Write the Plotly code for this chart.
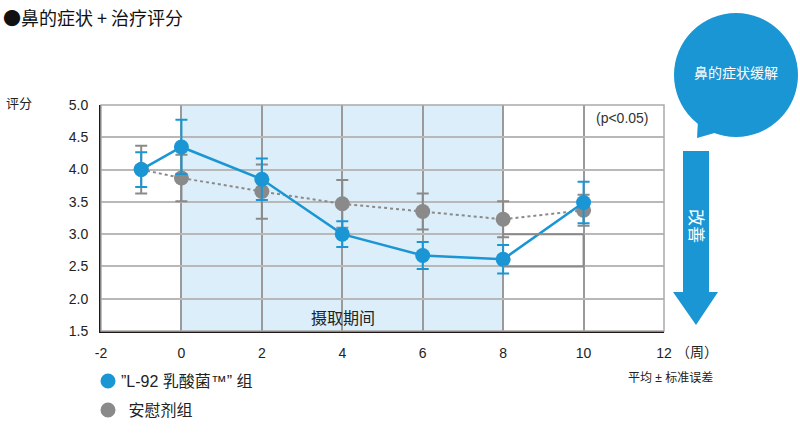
import plotly.graph_objects as go

weeks = [-1, 0, 2, 4, 6, 8, 10]
l92_mean = [4.00, 4.35, 3.85, 3.00, 2.67, 2.61, 3.49]
l92_se = [0.27, 0.42, 0.32, 0.20, 0.21, 0.22, 0.32]
placebo_mean = [4.00, 3.87, 3.66, 3.47, 3.35, 3.23, 3.37]
placebo_se = [0.37, 0.36, 0.42, 0.37, 0.28, 0.28, 0.24]
x_ticks = [-2, 0, 2, 4, 6, 8, 10, 12]
y_ticks = [1.5, 2.0, 2.5, 3.0, 3.5, 4.0, 4.5, 5.0]
series_names = ["”L-92 乳酸菌™” 组", " 安慰剂组"]

BLUE = "#1a96d4"
GRAY = "#8a8a8a"
FONT = "Liberation Sans, Noto Sans CJK SC"
CJK = "Noto Sans CJK SC"

L, R, T, B = 101, 664, 105, 331
W, H = 800, 437

def xp(px):
    return (px - L) / (R - L)

def yp(py):
    return (B - py) / (B - T)

fig = go.Figure()

fig.add_trace(go.Scatter(
    x=weeks, y=placebo_mean, mode="lines+markers", name=series_names[1],
    line=dict(color=GRAY, width=2, dash="dot"),
    marker=dict(color=GRAY, size=15),
    error_y=dict(type="data", array=placebo_se, color=GRAY, thickness=2, width=6),
    showlegend=False,
))
fig.add_trace(go.Scatter(
    x=weeks, y=l92_mean, mode="lines+markers", name=series_names[0],
    line=dict(color=BLUE, width=2.5),
    marker=dict(color=BLUE, size=15),
    error_y=dict(type="data", array=l92_se, color=BLUE, thickness=2, width=6),
    showlegend=False,
))

shapes = []
# intake period shading
shapes.append(dict(type="rect", xref="x", yref="paper", x0=0, x1=8, y0=0, y1=1,
                   fillcolor="#dbeef9", line=dict(width=0), layer="below"))
# significance bracket
shapes.append(dict(type="path", xref="x", yref="y",
                   path="M 8 3.0 L 10 3.0 L 10 2.5 L 8 2.5",
                   line=dict(color="#8a8a8a", width=2)))
# frame
shapes.append(dict(type="rect", xref="paper", yref="paper", x0=0, x1=1, y0=0, y1=1,
                   line=dict(color="#aaaaaa", width=1.5)))
# bubble
shapes.append(dict(type="circle", xref="paper", yref="paper",
                   x0=xp(674), x1=xp(798), y0=yp(137), y1=yp(13),
                   fillcolor=BLUE, line=dict(width=0)))
shapes.append(dict(type="path", xref="paper", yref="paper",
                   path=f"M {xp(698)} {yp(120)} L {xp(697)} {yp(138)} L {xp(718)} {yp(132)} Z",
                   fillcolor=BLUE, line=dict(width=0)))
# arrow
pts = [(683, 151), (709, 151), (709, 292), (718, 292), (696, 325), (673, 292), (683, 292)]
path = "M " + " L ".join(f"{xp(a)} {yp(b)}" for a, b in pts) + " Z"
shapes.append(dict(type="path", xref="paper", yref="paper", path=path,
                   fillcolor=BLUE, line=dict(width=0)))
# legend markers
for cy, col in [(381, BLUE), (410, GRAY)]:
    shapes.append(dict(type="circle", xref="paper", yref="paper",
                       x0=xp(100.5), x1=xp(115.5), y0=yp(cy + 7.5), y1=yp(cy - 7.5),
                       fillcolor=col, line=dict(width=0)))

annotations = [
    dict(text="●鼻的症状 + 治疗评分", xref="paper", yref="paper",
         x=xp(1), y=yp(17), xanchor="left", yanchor="middle", showarrow=False,
         font=dict(size=18, color="#111", family=CJK)),
    dict(text="评分", xref="paper", yref="paper", x=xp(4), y=yp(103),
         xanchor="left", yanchor="middle", showarrow=False,
         font=dict(size=13, color="#222", family=FONT)),
    dict(text="(p<0.05)", xref="paper", yref="paper", x=xp(622), y=yp(118),
         xanchor="center", yanchor="middle", showarrow=False,
         font=dict(size=14, color="#333", family=FONT)),
    dict(text="摄取期间", xref="paper", yref="paper", x=xp(343), y=yp(318),
         xanchor="center", yanchor="middle", showarrow=False,
         font=dict(size=16, color="#222", family=FONT)),
    dict(text="（周）", xref="paper", yref="paper", x=xp(697), y=yp(352),
         xanchor="center", yanchor="middle", showarrow=False,
         font=dict(size=14, color="#222", family=FONT)),
    dict(text="平均 ± 标准误差", xref="paper", yref="paper", x=xp(670), y=yp(378),
         xanchor="center", yanchor="middle", showarrow=False,
         font=dict(size=12, color="#222", family=FONT)),
    dict(text="鼻的症状缓解", xref="paper", yref="paper", x=xp(736), y=yp(73),
         xanchor="center", yanchor="middle", showarrow=False,
         font=dict(size=14, color="white", family=FONT)),
    dict(text="改善", xref="paper", yref="paper", x=xp(696), y=yp(226),
         xanchor="center", yanchor="middle", showarrow=False, textangle=90,
         font=dict(size=17, color="white", family=FONT)),
    dict(text=series_names[0], xref="paper", yref="paper", x=xp(119), y=yp(381),
         xanchor="left", yanchor="middle", showarrow=False,
         font=dict(size=16, color="#222", family=FONT)),
    dict(text=series_names[1], xref="paper", yref="paper", x=xp(122), y=yp(410),
         xanchor="left", yanchor="middle", showarrow=False,
         font=dict(size=16, color="#222", family=FONT)),
]

fig.update_layout(
    width=W, height=H,
    margin=dict(l=L, r=W - R, t=T, b=H - B, autoexpand=False),
    plot_bgcolor="white", paper_bgcolor="white",
    shapes=shapes, annotations=annotations, showlegend=False,
    font=dict(family=FONT, size=14, color="#222"),
    xaxis=dict(range=[-2, 12], tickvals=x_ticks, ticktext=[str(v) for v in x_ticks],
               showgrid=True, gridcolor="#9a9a9a", gridwidth=1.5, zeroline=False,
               showline=True, linecolor="#231815", linewidth=2,
               ticks="", ticklabelstandoff=8, tickfont=dict(size=14, color="#222")),
    yaxis=dict(range=[1.5, 5.0], tickvals=y_ticks, ticktext=[f"{v:.1f}" for v in y_ticks],
               showgrid=True, gridcolor="#b8b8b8", gridwidth=1.5, zeroline=False,
               showline=True, linecolor="#231815", linewidth=2,
               ticks="", ticklabelstandoff=8, tickfont=dict(size=14, color="#222")),
)

fig.write_html("out.html")
